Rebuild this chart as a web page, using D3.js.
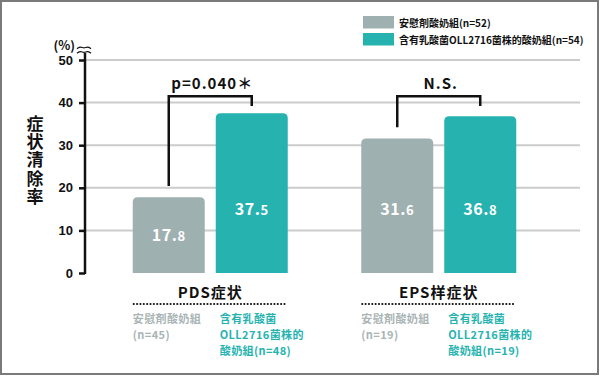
<!DOCTYPE html>
<html>
<head>
<meta charset="utf-8">
<script src="https://cdn.jsdelivr.net/npm/d3@7"></script>
<style>
  html, body { margin: 0; padding: 0; background: #fff; }
  svg { display: block; font-family: "Noto Sans CJK JP", "Noto Sans CJK SC", sans-serif; }
</style>
</head>
<body>
<svg id="chart" width="600" height="376"></svg>
<script>
// chart data
var groups = ["PDS症状", "EPS样症状"];
var seriesNames = ["安慰剤酸奶組(n=52)", "含有乳酸菌OLL2716菌株的酸奶組(n=54)"];
var placeboValues = [17.8, 31.6];
var probioticValues = [37.5, 36.8];
var placeboLabels = [["安慰剤酸奶組", "(n=45)"], ["安慰剤酸奶組", "(n=19)"]];
var probioticLabels = [["含有乳酸菌", "OLL2716菌株的", "酸奶組(n=48)"], ["含有乳酸菌", "OLL2716菌株的", "酸奶組(n=19)"]];
var significance = ["p=0.040＊", "N.S."];
var yTicks = [0, 10, 20, 30, 40, 50];
var yTitle = "症状清除率";

var colors = ["#9fb0b0", "#26b3b0"];

var svg = d3.select("#chart");

// frame
svg.append("rect")
    .attr("x", 1).attr("y", 1)
    .attr("width", 597).attr("height", 373)
    .attr("fill", "none")
    .attr("stroke", "#7a7a7a")
    .attr("stroke-width", 2);

var yScale = d3.scaleLinear().domain([0, 50]).range([273, 60]);
var xScale = d3.scaleBand().domain(groups).range([96, 553]);
var xSub = d3.scaleBand().domain([0, 1]).range([-77.5, 77.5]).paddingInner(0.1325);

var axisX = 85;

// gridlines
svg.append("g")
    .selectAll("line")
    .data(yTicks.filter(function (d) { return d > 0; }))
    .enter().append("line")
    .attr("x1", axisX).attr("x2", 580)
    .attr("y1", function (d) { return yScale(d); })
    .attr("y2", function (d) { return yScale(d); })
    .attr("stroke", "#cccccc")
    .attr("stroke-width", 2);

// y axis
var yAxis = d3.axisLeft(yScale).tickValues(yTicks).tickSize(6).tickPadding(6);
var gy = svg.append("g")
    .attr("transform", "translate(" + axisX + ",0)")
    .call(yAxis);
gy.select(".domain").remove();
gy.selectAll(".tick line").attr("stroke", "#111").attr("stroke-width", 2.5);
gy.selectAll(".tick text")
    .attr("fill", "#111")
    .style("font-size", "13px")
    .style("font-weight", "bold");

svg.append("line")
    .attr("x1", axisX).attr("x2", axisX)
    .attr("y1", 53).attr("y2", yScale(0) + 1)
    .attr("stroke", "#111")
    .attr("stroke-width", 2.5);

// break mark on top of the axis
var wave = d3.line().curve(d3.curveBasis);
[47.5, 52].forEach(function (yy) {
    var pts = [];
    for (var i = 0; i <= 4; i++) {
        pts.push([77 + i * 3.5, yy + (i % 2 === 0 ? 1.2 : -1.2)]);
    }
    svg.append("path")
        .attr("d", wave(pts))
        .attr("fill", "none")
        .attr("stroke", "#111")
        .attr("stroke-width", 1.3);
});

svg.append("text")
    .attr("x", 75).attr("y", 50)
    .attr("text-anchor", "end")
    .style("font-size", "12.5px")
    .style("font-weight", "bold")
    .attr("fill", "#111")
    .text("(%)");

// y title, vertical
svg.append("text")
    .attr("x", 35)
    .attr("y", 115)
    .style("writing-mode", "vertical-rl")
    .style("font-size", "17px")
    .style("font-weight", "bold")
    .style("letter-spacing", "1.2px")
    .attr("fill", "#111")
    .text(yTitle);

// bars
var barData = [];
groups.forEach(function (g, gi) {
    barData.push({ group: g, s: 0, value: placeboValues[gi] });
    barData.push({ group: g, s: 1, value: probioticValues[gi] });
});

function barX(d) { return xScale(d.group) + xScale.bandwidth() / 2 + xSub(d.s); }

function topRoundedRect(x, y, w, h, r) {
    return "M" + x + "," + (y + h) +
        "V" + (y + r) +
        "Q" + x + "," + y + " " + (x + r) + "," + y +
        "H" + (x + w - r) +
        "Q" + (x + w) + "," + y + " " + (x + w) + "," + (y + r) +
        "V" + (y + h) + "Z";
}

svg.append("g").selectAll("path")
    .data(barData)
    .enter().append("path")
    .attr("d", function (d) {
        return topRoundedRect(barX(d), yScale(d.value), xSub.bandwidth(), yScale(0) - yScale(d.value), 5);
    })
    .attr("fill", function (d) { return colors[d.s]; });

// value labels
var vl = svg.append("g").selectAll("text")
    .data(barData)
    .enter().append("text")
    .attr("x", function (d) { return barX(d) + xSub.bandwidth() / 2; })
    .attr("y", function (d) { return yScale(Math.min(d.value / 2, 15)) + 6; })
    .attr("text-anchor", "middle")
    .attr("fill", "#fff")
    .style("font-weight", "bold")
    .style("letter-spacing", "0.5px");
vl.append("tspan")
    .style("font-size", "16px")
    .text(function (d) { return d.value.toFixed(1).split(".")[0] + "."; });
vl.append("tspan")
    .style("font-size", "13px")
    .text(function (d) { return d.value.toFixed(1).split(".")[1]; });

// significance brackets
groups.forEach(function (g, gi) {
    var cx = xScale(g) + xScale.bandwidth() / 2;
    var x1 = cx + xSub(0) + xSub.bandwidth() / 2;
    var x2 = cx + xSub(1) + xSub.bandwidth() / 2;
    var top = yScale(41.5);
    svg.append("path")
        .attr("d", "M" + x1 + "," + yScale(placeboValues[gi] + 2.6) +
            "V" + top + "H" + x2 + "V" + yScale(39.2))
        .attr("fill", "none")
        .attr("stroke", "#111")
        .attr("stroke-width", 2.5);
    svg.append("text")
        .attr("x", cx + 2)
        .attr("y", 89)
        .attr("text-anchor", "middle")
        .style("font-size", "15px")
        .style("font-weight", "bold")
        .style("letter-spacing", "1px")
        .attr("fill", "#111")
        .text(significance[gi]);
});

// group titles, dotted rules and series notes
groups.forEach(function (g, gi) {
    var cx = xScale(g) + xScale.bandwidth() / 2;
    var left = cx + xSub(0);
    var right = cx + xSub(1) + xSub.bandwidth();
    svg.append("text")
        .attr("x", cx)
        .attr("y", 298)
        .attr("text-anchor", "middle")
        .style("font-size", "15px")
        .style("font-weight", "bold")
        .style("letter-spacing", "1px")
        .attr("fill", "#111")
        .text(g);
    svg.append("line")
        .attr("x1", left + 1).attr("x2", right)
        .attr("y1", 304).attr("y2", 304)
        .attr("stroke", "#111")
        .attr("stroke-width", 2.2)
        .attr("stroke-linecap", "round")
        .attr("stroke-dasharray", "0,3.35");

    svg.append("g").selectAll("text")
        .data(placeboLabels[gi])
        .enter().append("text")
        .attr("x", left)
        .attr("y", function (d, i) { return 323 + i * 16; })
        .style("font-size", "11px")
        .style("font-weight", "bold")
        .style("letter-spacing", "0.4px")
        .attr("fill", "#a9b4b4")
        .text(function (d) { return d; });

    svg.append("g").selectAll("text")
        .data(probioticLabels[gi])
        .enter().append("text")
        .attr("x", cx + xSub(1) + 4)
        .attr("y", function (d, i) { return 323 + i * 16; })
        .style("font-size", "11px")
        .style("font-weight", "bold")
        .style("letter-spacing", "0.4px")
        .attr("fill", colors[1])
        .text(function (d) { return d; });
});

// legend
var legend = svg.selectAll(".legend")
    .data(seriesNames)
    .enter().append("g")
    .attr("class", "legend")
    .attr("transform", function (d, i) { return "translate(363," + (16 + i * 17) + ")"; });

legend.append("rect")
    .attr("width", 31)
    .attr("height", 12.5)
    .attr("fill", function (d, i) { return colors[i]; });

legend.append("text")
    .attr("x", 36)
    .attr("y", 10.5)
    .style("font-size", "10px")
    .style("font-weight", "bold")
    .attr("fill", "#111")
    .text(function (d) { return d; });
</script>
</body>
</html>
